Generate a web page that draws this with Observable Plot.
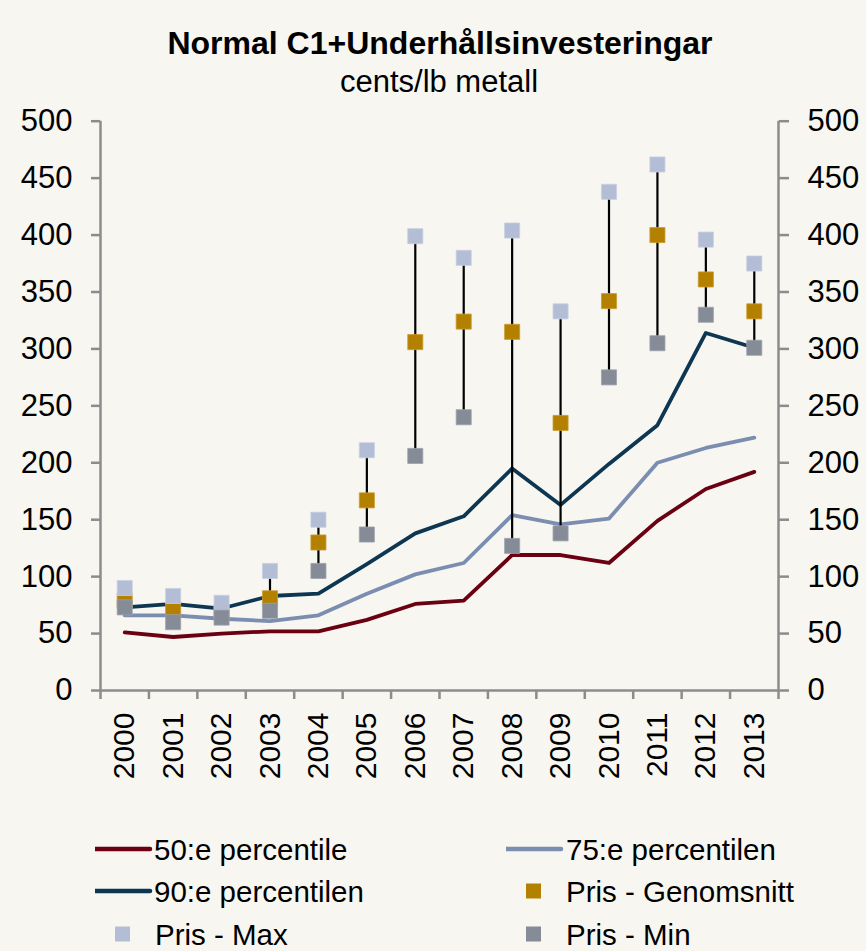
<!DOCTYPE html>
<html>
<head>
<meta charset="utf-8">
<script src="https://cdn.jsdelivr.net/npm/d3@7"></script>
<script src="https://cdn.jsdelivr.net/npm/@observablehq/plot@0.6"></script>
<style>
  html, body { margin: 0; padding: 0; background: #f7f6f0; }
  #wrap { position: relative; width: 866px; height: 951px; background: #f7f6f0; font-family: "Liberation Sans", Arial, sans-serif; color: #000; overflow: hidden; }
  .t { position: absolute; white-space: nowrap; line-height: 1; }
  #chart { position: absolute; left: 0; top: 0; }
</style>
</head>
<body>
<div id="wrap">
  <div class="t" id="title" style="left:0;width:880px;text-align:center;top:27px;font-size:32px;font-weight:bold;">Normal C1+Underhållsinvesteringar</div>
  <div class="t" id="subtitle" style="left:0;width:878px;text-align:center;top:66px;font-size:31px;">cents/lb metall</div>
  <div id="chart"></div>
  <div id="legend"></div>
</div>
<script>
// ---- Data ----
const years = [2000, 2001, 2002, 2003, 2004, 2005, 2006, 2007, 2008, 2009, 2010, 2011, 2012, 2013];
const p50 = [51, 47, 50, 52, 52, 62, 76, 79, 119, 119, 112, 149, 177, 192];
const p75 = [66, 66, 63, 61, 66, 85, 102, 112, 154, 146, 151, 200, 213, 222];
const p90 = [73, 76, 72, 83, 85, 111, 138, 153, 195, 163, 199, 233, 314, 301];
const prisAvg = [79, 71, 69, 81, 130, 167, 306, 324, 315, 235, 342, 400, 361, 333];
const prisMax = [90, 83, 77, 105, 150, 211, 399, 380, 404, 333, 438, 462, 396, 375];
const prisMin = [73, 60, 64, 70, 105, 137, 206, 240, 127, 138, 275, 305, 330, 301];
const yTicks = [0, 50, 100, 150, 200, 250, 300, 350, 400, 450, 500];
const seriesNames = ["50:e percentile", "75:e percentilen", "90:e percentilen", "Pris - Genomsnitt", "Pris - Max", "Pris - Min"];
const colors = ["#6b0012", "#7b8db0", "#0d3653", "#b38000", "#b3bdd6", "#858b97"];

// ---- Tables ----
const rows = years.map((y, i) => ({year: y, p50: p50[i], p75: p75[i], p90: p90[i], avg: prisAvg[i], max: prisMax[i], min: prisMin[i]}));
const bounds = [years[0] - 0.5, ...years.map(y => y + 0.5)];
const axisGrey = "#8c8c8c";

const chart = Plot.plot({
  width: 866,
  height: 800,
  marginTop: 120.7,
  marginBottom: 110,
  marginLeft: 100,
  marginRight: 88,
  style: {background: "transparent", fontFamily: "'Liberation Sans', Arial, sans-serif", overflow: "visible"},
  x: {type: "linear", domain: [bounds[0], bounds[bounds.length - 1]]},
  y: {domain: [0, 500]},
  marks: [
    // axis frame lines
    Plot.ruleX([bounds[0], bounds[bounds.length - 1]], {y1: 0, y2: 500, stroke: axisGrey, strokeWidth: 2.5}),
    Plot.ruleY([0], {stroke: axisGrey, strokeWidth: 2.5}),
    // axes
    Plot.axisY({anchor: "left", ticks: yTicks, tickSize: 9, tickPadding: 19, fontSize: 31, stroke: axisGrey, strokeWidth: 2.5, fill: "#000", label: null}),
    Plot.axisY({anchor: "right", ticks: yTicks, tickSize: 10, tickPadding: 19, fontSize: 31, stroke: axisGrey, strokeWidth: 2.5, fill: "#000", label: null}),
    Plot.axisX({ticks: bounds, tickSize: 9, tickFormat: () => "", stroke: axisGrey, strokeWidth: 2.5, label: null}),
    Plot.axisX({ticks: years, tickSize: 0, tickPadding: 22, tickRotate: -90, tickFormat: d => String(d), fontSize: 30, fill: "#000", label: null}),
    // percentile lines
    Plot.line(rows, {x: "year", y: "p50", stroke: colors[0], strokeWidth: 3.8}),
    Plot.line(rows, {x: "year", y: "p75", stroke: colors[1], strokeWidth: 3.8}),
    Plot.line(rows, {x: "year", y: "p90", stroke: colors[2], strokeWidth: 3.8}),
    // high-low lines
    Plot.ruleX(rows, {x: "year", y1: "min", y2: "max", stroke: "#000", strokeWidth: 2.2}),
    // price markers
    Plot.dot(rows, {x: "year", y: "avg", symbol: "square", r: 8.5, fill: colors[3], stroke: "#c99a30", strokeWidth: 0.8}),
    Plot.dot(rows, {x: "year", y: "max", symbol: "square", r: 8.5, fill: colors[4], stroke: "#c6cfe2", strokeWidth: 0.8}),
    Plot.dot(rows, {x: "year", y: "min", symbol: "square", r: 8.5, fill: colors[5], stroke: "#9da2ac", strokeWidth: 0.8})
  ]
});
document.getElementById("chart").appendChild(chart);

// ---- Legend ----
const legendItems = [
  {name: seriesNames[0], color: colors[0], kind: "line", col: 0, row: 0},
  {name: seriesNames[1], color: colors[1], kind: "line", col: 1, row: 0},
  {name: seriesNames[2], color: colors[2], kind: "line", col: 0, row: 1},
  {name: seriesNames[3], color: colors[3], kind: "square", col: 1, row: 1},
  {name: seriesNames[4], color: colors[4], kind: "square", col: 0, row: 2},
  {name: seriesNames[5], color: colors[5], kind: "square", col: 1, row: 2}
];
const rowY = [849, 891, 934];
const colLine = [[95, 150], [506, 561]];
const colSquare = [122.5, 533.5];
const colText = [154, 566];
const legend = document.getElementById("legend");
const fs = 29.5;
legendItems.forEach(it => {
  const cy = rowY[it.row];
  const sw = document.createElementNS("http://www.w3.org/2000/svg", "svg");
  sw.setAttribute("width", 70); sw.setAttribute("height", 20);
  sw.style.position = "absolute";
  if (it.kind === "line") {
    const [a, b] = colLine[it.col];
    sw.style.left = a + "px"; sw.style.top = (cy - 10) + "px";
    sw.innerHTML = `<line x1="0" x2="${b - a}" y1="10" y2="10" stroke="${it.color}" stroke-width="4.5" stroke-linecap="round"/>`;
  } else {
    const cx = colSquare[it.col];
    sw.style.left = (cx - 7.5) + "px"; sw.style.top = (cy - 10) + "px";
    sw.innerHTML = `<rect x="0" y="2.5" width="15" height="15" fill="${it.color}"/>`;
  }
  legend.appendChild(sw);
  const t = document.createElement("div");
  t.className = "t";
  t.style.left = colText[it.col] + (it.kind === "square" && it.col === 0 ? 1 : 0) + "px";
  t.style.top = (cy - fs * 0.49) + "px";
  t.style.fontSize = fs + "px";
  t.textContent = it.name;
  document.getElementById("wrap").appendChild(t);
});
</script>
</body>
</html>
